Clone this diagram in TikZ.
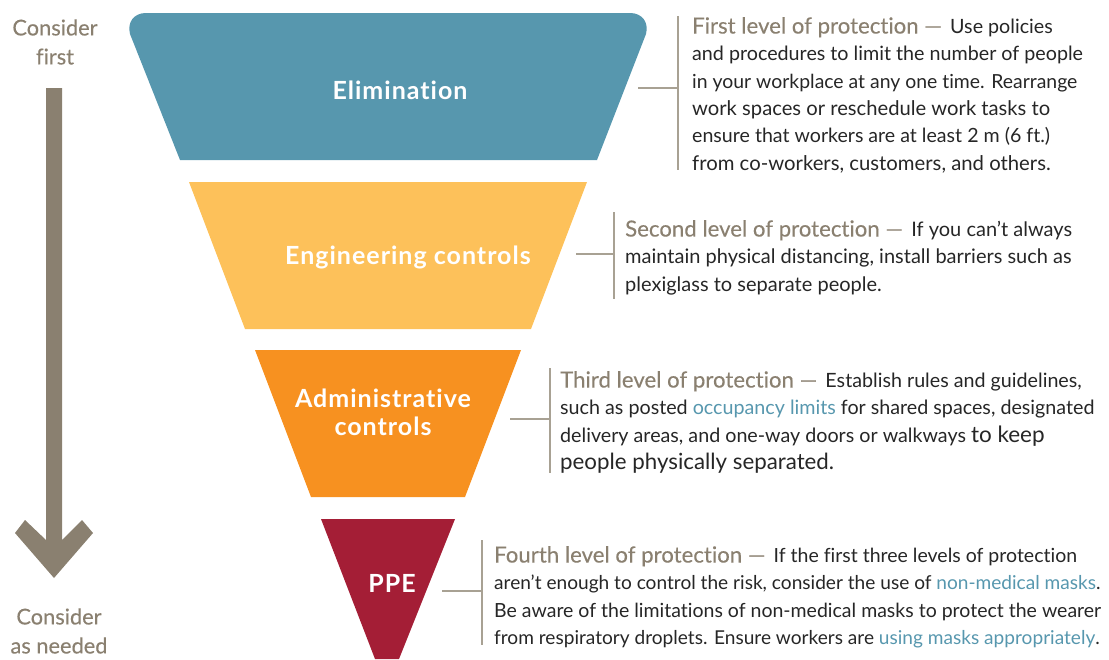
\documentclass[tikz,border=0pt]{standalone}
\usepackage{fontspec}
\setmainfont[Ligatures=NoCommon]{Lato}
\newfontfamily\labelfont[LetterSpace=4,Ligatures=NoCommon]{Lato}
\newfontfamily\softfont[FakeBold=0.25,Ligatures=NoCommon]{Lato}
\definecolor{warm}{HTML}{8A8070}
\definecolor{rulec}{HTML}{A8A193}
\definecolor{teal}{HTML}{5797AE}
\definecolor{sun}{HTML}{FDC15A}
\definecolor{amber}{HTML}{F79120}
\definecolor{wine}{HTML}{A41E36}
\definecolor{ink}{HTML}{262626}
\newcommand{\hd}[1]{\textcolor{warm}{\softfont\fontsize{22.2}{27.3}\selectfont #1}\,}
\newcommand{\lk}[1]{\textcolor{teal}{#1}}
\newcommand{\fs}[2]{{\fontsize{#1}{27.3}\selectfont #2}}
\tikzset{
  blurb/.style={anchor=north west,inner sep=0pt,align=left,text=ink},
  tier/.style={text=white,align=center,inner sep=0pt,font=\labelfont\bfseries\fontsize{25}{27.5}\selectfont},
  side/.style={text=warm,align=center,inner sep=0pt,font=\softfont\fontsize{21.8}{29}\selectfont},
  lead/.style={draw=rulec,line width=1.5pt},
}
\begin{document}
\begin{tikzpicture}[x=1pt,y=-1pt]
\useasboundingbox (0,0) rectangle (1109,659);
% funnel tiers
\fill[teal] (180,160) -- (597,160) -- (646,34) .. controls (649,22) and (642,13) .. (630,13) -- (146,13) .. controls (134,13) and (127,22) .. (130,34) -- cycle;
\fill[sun] (189,182) -- (587,182) -- (531,329) -- (245,329) -- cycle;
\fill[amber] (255,350) -- (521,350) -- (465,497) -- (311,497) -- cycle;
\fill[wine] (321,519) -- (455,519) -- (399,659) -- (375,659) -- cycle;
\node[tier] (t1) at (400,90) {Elimination};
\node[tier] (t2) at (408,257) {Engineering controls};
\node[tier] (t3) at (383,412.5) {Administrative\\controls};
\node[tier] (t4) at (392,583) {PPE};
% arrow
\fill[warm] (46,88) -- (62,88) -- (62,540) -- (82,520) -- (93,533) -- (54,578) -- (15,533) -- (25,520) -- (46,540) -- cycle;
\node[side] (c1) at (55,42) {Consider\\first};
\node[side] (c2) at (59,631) {Consider\\as needed};
% text blocks
\node[blurb,font=\fontsize{19.7}{27.3}\selectfont] (b1) at (692,17) {\hd{First level of protection —} Use policies\\and procedures to limit the number of people\\\fs{19.4}{in your workplace at any one time. Rearrange}\\\fs{20.2}{work spaces or reschedule work tasks to}\\\fs{19.6}{ensure that workers are at least 2 m (6 ft.)}\\\fs{20.3}{from co-workers, customers, and others.}};
\node[blurb,font=\fontsize{20}{27.3}\selectfont] (b2) at (625,220) {\hd{Second level of protection —} If you can’t always\\maintain physical distancing, install barriers such as\\plexiglass to separate people.};
\node[blurb,font=\fontsize{19.7}{27.3}\selectfont] (b3) at (560,371) {\hd{Third level of protection —} Establish rules and guidelines,\\such as posted \lk{occupancy limits} for shared spaces, designated\\delivery areas, and one-way doors or walkways \fs{22.5}{to keep}\\\fs{22.3}{people physically separated.}};
\node[blurb,font=\fontsize{19.5}{27.3}\selectfont] (b4) at (494,546) {\hd{Fourth level of protection —} If the first three levels of protection\\\fs{19.1}{aren’t enough to control the risk, consider the use of \lk{non-medical masks}.}\\Be aware of the limitations of non-medical masks to protect the wearer\\\fs{19.1}{from respiratory droplets. Ensure workers are \lk{using masks appropriately}.}};
% leaders
\coordinate (e1) at (638,88); \coordinate (j1) at (678,88); \coordinate (u1) at (678,16); \coordinate (d1) at (678,170);
\coordinate (e2) at (576,254); \coordinate (j2) at (614,254); \coordinate (u2) at (614,212); \coordinate (d2) at (614,299);
\coordinate (e3) at (510,419); \coordinate (j3) at (550,419); \coordinate (u3) at (550,368); \coordinate (d3) at (550,473);
\coordinate (e4) at (442,591); \coordinate (j4) at (482,591); \coordinate (u4) at (482,540); \coordinate (d4) at (482,645);
\draw[lead] (e1) -- (j1); \draw[lead] (u1) -- (d1);
\draw[lead] (e2) -- (j2); \draw[lead] (u2) -- (d2);
\draw[lead] (e3) -- (j3); \draw[lead] (u3) -- (d3);
\draw[lead] (e4) -- (j4); \draw[lead] (u4) -- (d4);
\end{tikzpicture}
\end{document}
